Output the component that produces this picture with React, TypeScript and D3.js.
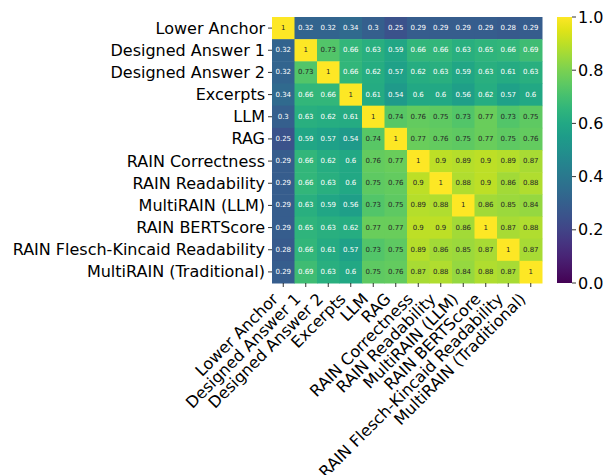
import * as React from "react";
import * as d3 from "d3";

const labels = [
  "Lower Anchor",
  "Designed Answer 1",
  "Designed Answer 2",
  "Excerpts",
  "LLM",
  "RAG",
  "RAIN Correctness",
  "RAIN Readability",
  "MultiRAIN (LLM)",
  "RAIN BERTScore",
  "RAIN Flesch-Kincaid Readability",
  "MultiRAIN (Traditional)",
];

const corr: number[][] = [
  [1, 0.32, 0.32, 0.34, 0.3, 0.25, 0.29, 0.29, 0.29, 0.29, 0.28, 0.29],
  [0.32, 1, 0.73, 0.66, 0.63, 0.59, 0.66, 0.66, 0.63, 0.65, 0.66, 0.69],
  [0.32, 0.73, 1, 0.66, 0.62, 0.57, 0.62, 0.63, 0.59, 0.63, 0.61, 0.63],
  [0.34, 0.66, 0.66, 1, 0.61, 0.54, 0.6, 0.6, 0.56, 0.62, 0.57, 0.6],
  [0.3, 0.63, 0.62, 0.61, 1, 0.74, 0.76, 0.75, 0.73, 0.77, 0.73, 0.75],
  [0.25, 0.59, 0.57, 0.54, 0.74, 1, 0.77, 0.76, 0.75, 0.77, 0.75, 0.76],
  [0.29, 0.66, 0.62, 0.6, 0.76, 0.77, 1, 0.9, 0.89, 0.9, 0.89, 0.87],
  [0.29, 0.66, 0.63, 0.6, 0.75, 0.76, 0.9, 1, 0.88, 0.9, 0.86, 0.88],
  [0.29, 0.63, 0.59, 0.56, 0.73, 0.75, 0.89, 0.88, 1, 0.86, 0.85, 0.84],
  [0.29, 0.65, 0.63, 0.62, 0.77, 0.77, 0.9, 0.9, 0.86, 1, 0.87, 0.88],
  [0.28, 0.66, 0.61, 0.57, 0.73, 0.75, 0.89, 0.86, 0.85, 0.87, 1, 0.87],
  [0.29, 0.69, 0.63, 0.6, 0.75, 0.76, 0.87, 0.88, 0.84, 0.88, 0.87, 1],
];

const cbarTicks = [0, 0.2, 0.4, 0.6, 0.8, 1.0];

const W = 606;
const H = 475;
const left = 272;
const right = 542;
const top = 17;
const bottom = 283;
const font = "DejaVu Sans";
const labelSize = 16;

// same rule seaborn uses to pick annotation colour
function luminance(c: string) {
  const rgb = d3.rgb(c);
  const lin = (v: number) => {
    v = v / 255;
    return v <= 0.03928 ? v / 12.92 : Math.pow((v + 0.055) / 1.055, 2.4);
  };
  return 0.2126 * lin(rgb.r) + 0.7152 * lin(rgb.g) + 0.0722 * lin(rgb.b);
}

function fmt(v: number) {
  return v === 1 ? "1" : String(v);
}

export default function App() {
  const x = d3.scaleBand<string>().domain(labels).range([left, right]);
  const y = d3.scaleBand<string>().domain(labels).range([top, bottom]);
  const color = d3.scaleSequential(d3.interpolateViridis).domain([0, 1]);

  const cbX = 557;
  const cbW = 15;
  const cbY = d3.scaleLinear().domain([0, 1]).range([bottom, top]);
  const stops = d3.range(0, 1.0001, 0.05);

  return (
    <svg
      width={W}
      height={H}
      style={{ position: "absolute", left: 0, top: 0, background: "#fff" }}
      fontFamily={font}
    >
      <defs>
        <linearGradient id="cb" x1="0" y1="1" x2="0" y2="0">
          {stops.map((s) => (
            <stop key={s} offset={s} stopColor={color(s)} />
          ))}
        </linearGradient>
      </defs>

      {corr.map((row, i) =>
        row.map((v, j) => {
          const c = color(v);
          const tc = luminance(c) > 0.408 ? "#262626" : "#ffffff";
          return (
            <g key={`${i}-${j}`}>
              <rect
                x={x(labels[j])}
                y={y(labels[i])}
                width={x.bandwidth() + 0.5}
                height={y.bandwidth() + 0.5}
                fill={c}
              />
              <text
                x={x(labels[j])! + x.bandwidth() / 2}
                y={y(labels[i])! + y.bandwidth() / 2}
                textAnchor="middle"
                dominantBaseline="central"
                fontSize={7}
                fill={tc}
              >
                {fmt(v)}
              </text>
            </g>
          );
        })
      )}

      {/* y axis */}
      {labels.map((l) => {
        const cy = y(l)! + y.bandwidth() / 2;
        return (
          <g key={"y" + l}>
            <line x1={left - 4} x2={left} y1={cy} y2={cy} stroke="#000" strokeWidth={0.8} />
            <text x={left - 7} y={cy} textAnchor="end" dominantBaseline="central" fontSize={labelSize}>
              {l}
            </text>
          </g>
        );
      })}

      {/* x axis */}
      {labels.map((l) => {
        const cx = x(l)! + x.bandwidth() / 2;
        return (
          <g key={"x" + l}>
            <line x1={cx} x2={cx} y1={bottom} y2={bottom + 4} stroke="#000" strokeWidth={0.8} />
            <text
              transform={`translate(${cx - 4},${bottom + 17}) rotate(-45)`}
              textAnchor="end"
              fontSize={labelSize}
            >
              {l}
            </text>
          </g>
        );
      })}

      {/* colorbar */}
      <rect x={cbX} y={top} width={cbW} height={bottom - top} fill="url(#cb)" />
      {cbarTicks.map((t) => (
        <g key={"c" + t}>
          <line
            x1={cbX + cbW}
            x2={cbX + cbW + 4}
            y1={cbY(t)}
            y2={cbY(t)}
            stroke="#000"
            strokeWidth={0.8}
          />
          <text x={cbX + cbW + 6} y={cbY(t)} dominantBaseline="central" fontSize={labelSize}>
            {t.toFixed(1)}
          </text>
        </g>
      ))}
    </svg>
  );
}
